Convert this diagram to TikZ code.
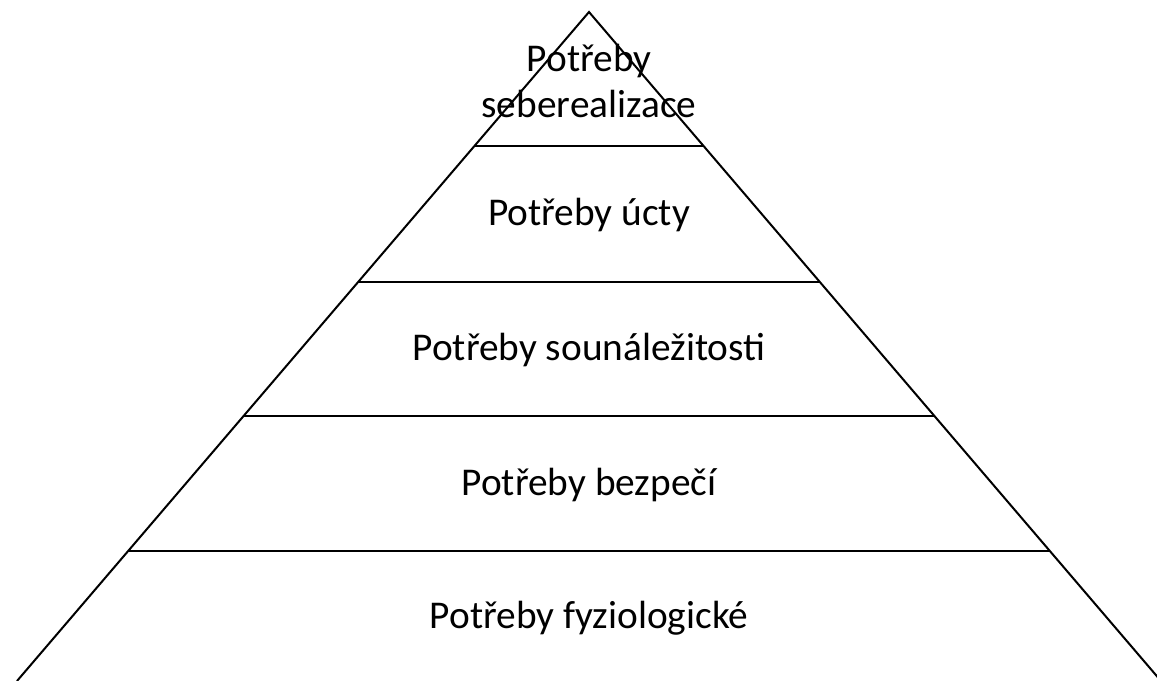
\documentclass[tikz,border=0pt]{standalone}
\usepackage{fontspec}
\setmainfont{Carlito}
\usetikzlibrary{calc}
\tikzset{level/.style = {font=\fontsize{29.5}{34}\selectfont, align=center, inner sep=0pt}}

\begin{document}
\begin{tikzpicture}[x=0.75pt, y=-0.75pt, line width=1.5pt]
\useasboundingbox (0,0) rectangle (1157,681);
\clip (0,0) rectangle (1157,681);
% corners
\coordinate (T) at (589,12);
\coordinate (L) at (17,681);
\coordinate (R) at (1161,681);
\draw (L) -- (T) -- (R);
% horizontal levels
\foreach \y/\n in {146/a, 282/b, 416/c, 551/d}{
  \coordinate (\n l) at ($(T)!{(\y-12)/669}!(L)$);
  \coordinate (\n r) at ($(T)!{(\y-12)/669}!(R)$);
  \draw (\n l) -- (\n r);
}
\node[level] (self) at (589,81) {Potřeby\\seberealizace};
\node[level] (esteem) at (589,215) {Potřeby úcty};
\node[level] (love) at (589,350) {Potřeby sounáležitosti};
\node[level] (safety) at (589,485) {Potřeby bezpečí};
\node[level] (phys) at (589,618) {Potřeby fyziologické};
\end{tikzpicture}
\end{document}
